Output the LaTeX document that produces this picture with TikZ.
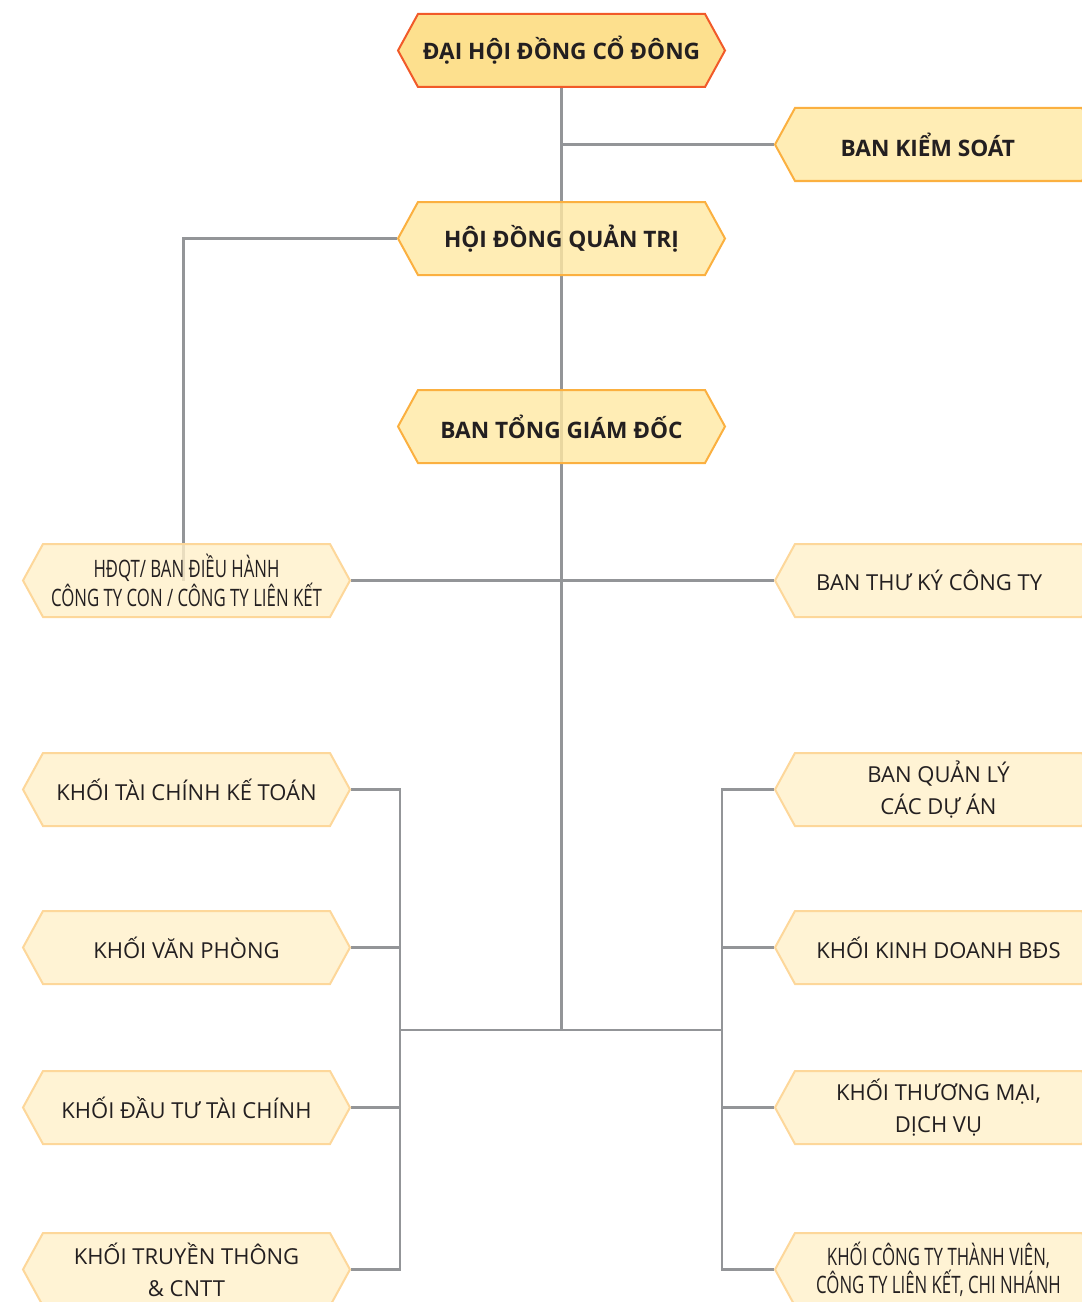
\documentclass[tikz,border=0pt]{standalone}
\usepackage{fontspec}
\setmainfont{Open Sans}
\newfontfamily\narrowfont[FakeStretch=0.7]{Open Sans}
\usetikzlibrary{shapes.symbols,backgrounds}
\definecolor{linegray}{HTML}{939598}
\definecolor{textdark}{HTML}{231F20}
\definecolor{redline}{HTML}{F15A29}
\definecolor{goldfill}{HTML}{FCD872}
\definecolor{orangeline}{HTML}{FBB040}
\definecolor{yellowfill}{HTML}{FFE8A2}
\definecolor{paleline}{HTML}{FDD79A}
\definecolor{palefill}{HTML}{FFF0C9}
\begin{document}
\begin{tikzpicture}[x=0.75pt,y=-0.75pt,
  box/.style={shape=signal, signal to=west and east, signal pointer angle=122.6,
    minimum width=245.25pt, minimum height=54.75pt, inner sep=0pt, line width=1.5pt,
    fill opacity=0.8, text opacity=1, align=center, text=textdark},
  mainbox/.style={box, draw=redline, fill=goldfill, font=\fontsize{17}{21}\selectfont\bfseries},
  topbox/.style={box, draw=orangeline, fill=yellowfill, font=\fontsize{17}{21}\selectfont\bfseries},
  unitbox/.style={box, draw=paleline, fill=palefill, font=\fontsize{16.5}{24}\selectfont},
  narrowbox/.style={unitbox, font=\narrowfont\fontsize{18}{19}\selectfont},
  link/.style={draw=linegray, line width=2.2pt}]
  \useasboundingbox (0,0) rectangle (1081,1302);
  % top of the chart
  \node[mainbox] (dhcd) at (561.5,50.5) {ĐẠI HỘI ĐỒNG CỔ ĐÔNG};
  \node[topbox] (bks) at (938.5,144.5) {BAN KIỂM SOÁT\hspace*{16pt}};
  \node[topbox] (hdqt) at (561.5,238.5) {HỘI ĐỒNG QUẢN TRỊ};
  \node[topbox] (btgd) at (561.5,426.5) {BAN TỔNG GIÁM ĐỐC};
  \node[narrowbox] (ctcon) at (186.5,580.5) {HĐQT/ BAN ĐIỀU HÀNH\\CÔNG TY CON / CÔNG TY LIÊN KẾT};
  \node[unitbox] (btk) at (938.5,580.5) {BAN THƯ KÝ CÔNG TY\hspace*{14pt}};
  % left blocks
  \node[unitbox] (tckt) at (186.5,789.5) {KHỐI TÀI CHÍNH KẾ TOÁN};
  \node[unitbox] (vp) at (186.5,947.5) {KHỐI VĂN PHÒNG};
  \node[unitbox] (dttc) at (186.5,1107.5) {KHỐI ĐẦU TƯ TÀI CHÍNH};
  \node[unitbox] (ttcntt) at (186.5,1269.5) {KHỐI TRUYỀN THÔNG\\\& CNTT};
  % right blocks
  \node[unitbox] (qlda) at (938.5,789.5) {BAN QUẢN LÝ\\CÁC DỰ ÁN};
  \node[unitbox] (kdbds) at (938.5,947.5) {KHỐI KINH DOANH BĐS};
  \node[unitbox] (tmdv) at (938.5,1107.5) {KHỐI THƯƠNG MẠI,\\DỊCH VỤ};
  \node[narrowbox] (ctv) at (938.5,1269.5) {KHỐI CÔNG TY THÀNH VIÊN,\\CÔNG TY LIÊN KẾT, CHI NHÁNH};
  \coordinate (bus) at (561.5,1030);
  \coordinate (lbus) at (400,1030);
  \coordinate (rbus) at (722,1030);
  \begin{pgfonlayer}{background}
    \draw[link] (dhcd.south) -- (bus);
    \draw[link] (dhcd.south |- bks.west) -- (bks.west);
    \draw[link] (hdqt.west) -| ([xshift=-2.6pt]ctcon.center);
    \draw[link] (ctcon.east) -- (btk.west);
    \draw[link] (lbus) -- (rbus);
    \draw[link] (tckt.east) -| (lbus);
    \draw[link] (vp.east) -- (vp.east -| lbus);
    \draw[link] (dttc.east) -- (dttc.east -| lbus);
    \draw[link] (ttcntt.east) -| (lbus);
    \draw[link] (qlda.west) -| (rbus);
    \draw[link] (kdbds.west) -- (kdbds.west -| rbus);
    \draw[link] (tmdv.west) -- (tmdv.west -| rbus);
    \draw[link] (ctv.west) -| (rbus);
  \end{pgfonlayer}
\end{tikzpicture}
\end{document}
